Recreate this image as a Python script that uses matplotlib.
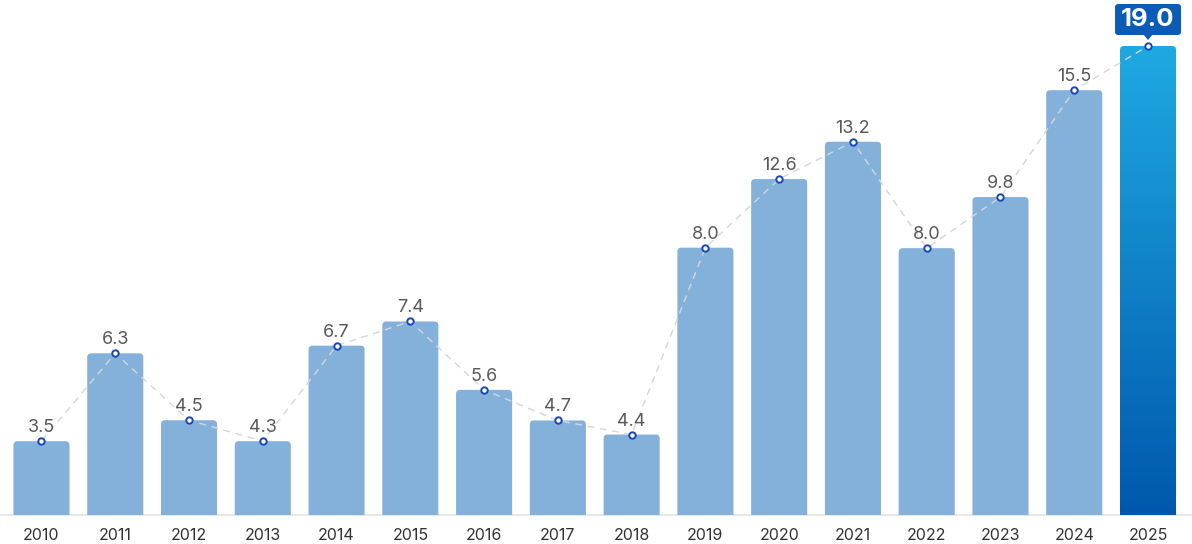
import numpy as np
import matplotlib
matplotlib.use("Agg")
import matplotlib.pyplot as plt
from matplotlib.patches import FancyBboxPatch, Polygon
from matplotlib.colors import LinearSegmentedColormap
from matplotlib.transforms import IdentityTransform

# ---- data ----
years = ["2010", "2011", "2012", "2013", "2014", "2015", "2016", "2017",
         "2018", "2019", "2020", "2021", "2022", "2023", "2024", "2025"]
values = [3.5, 6.3, 4.5, 4.3, 6.7, 7.4, 5.6, 4.7, 4.4, 8.0, 12.6, 13.2,
          8.0, 9.8, 15.5, 19.0]
# bar heights as drawn in the reference (not proportional to the labels)
bar_heights = [2.99, 6.55, 3.84, 2.99, 6.86, 7.84, 5.07, 3.83, 3.26, 10.83,
               13.61, 15.12, 10.81, 12.88, 17.21, 19.0]

plt.rcParams['font.family'] = ['Inter', 'DejaVu Sans']

W, H = 1192, 544
fig = plt.figure(figsize=(W / 100, H / 100), dpi=100)
base_px = 515
ax = fig.add_axes([0, (H - base_px) / H, 1, base_px / H])
top_val = 19.0 * base_px / 469.0
ax.set_ylim(0, top_val)
ax.set_xlim(-41.5 / 73.8, 15 + 44 / 73.8)

bar_w = 0.76
bar_color = "#84b1da"
x = np.arange(len(years))

# rounded bars
xunit = 1 / 73.8
yunit = top_val / base_px
aspect = yunit / xunit
rad = 4 * xunit
patches = []
for i, h in enumerate(bar_heights):
    last = i == len(years) - 1
    p = FancyBboxPatch((x[i] - bar_w / 2, -1.0), bar_w, h + 1.0,
                       boxstyle=f"round,pad=0,rounding_size={rad}",
                       mutation_aspect=aspect,
                       facecolor=bar_color if not last else "none",
                       edgecolor="none", zorder=2)
    ax.add_patch(p)
    patches.append(p)

# gradient for the last bar
grad_cmap = LinearSegmentedColormap.from_list("g", ["#0058ad", "#1fa9e1"])
grad = np.linspace(0, 1, 256).reshape(-1, 1)
i = len(years) - 1
im = ax.imshow(grad, extent=[x[i] - bar_w / 2, x[i] + bar_w / 2, 0, bar_heights[i]],
               origin="lower", aspect="auto", cmap=grad_cmap, zorder=2)
im.set_clip_path(patches[i])
ax.set_xlim(-41.5 / 73.8, 15 + 44 / 73.8)
ax.set_ylim(0, top_val)

# dashed connecting line + markers
ax.plot(x, bar_heights, linestyle=(0, (5, 4)), color="#d3d7dc", lw=1.0, zorder=3)
ax.plot(x, bar_heights, linestyle="none", marker="o", markersize=4.6,
        markerfacecolor="white", markeredgecolor="#1646b8",
        markeredgewidth=1.4, zorder=4)

# value labels
for i, (v, h) in enumerate(zip(values, bar_heights)):
    if i == len(years) - 1:
        continue
    ax.annotate(f"{v:.1f}", (x[i], h), xytext=(0, 5), textcoords="offset pixels",
                ha="center", va="bottom", fontsize=13, fontweight="normal",
                color="#595959", zorder=5)

# highlight badge for last bar
fig.canvas.draw()
i = len(years) - 1
px, py = ax.transData.transform((x[i], bar_heights[i]))
bw, bh = 66, 31
by0 = py + 11
badge_col = "#0b5cb6"
badge = FancyBboxPatch((px - bw / 2, by0), bw, bh,
                       boxstyle="round,pad=0,rounding_size=3",
                       transform=IdentityTransform(), facecolor=badge_col,
                       edgecolor="none", clip_on=False, zorder=6)
fig.add_artist(badge)
tri = Polygon([[px - 5, by0 + 1], [px + 5, by0 + 1], [px, by0 - 5]],
              closed=True, transform=IdentityTransform(), facecolor=badge_col,
              edgecolor="none", clip_on=False, zorder=6)
fig.add_artist(tri)
fig.text(px, by0 + bh / 2, f"{values[i]:.1f}", transform=IdentityTransform(),
         ha="center", va="center", fontsize=18.5, fontweight="bold",
         color="white", zorder=7)

# axes styling
ax.set_xticks(x)
ax.set_xticklabels(years, fontsize=11.5, color="#333333")
ax.tick_params(axis="x", length=0, pad=9)
ax.set_yticks([])
for s in ["top", "right", "left"]:
    ax.spines[s].set_visible(False)
ax.spines["bottom"].set_color("#e3e3e3")
ax.spines["bottom"].set_linewidth(1.2)
ax.spines["bottom"].set_zorder(1)
ax.set_facecolor("none")

fig.savefig("out.png", dpi=100)
